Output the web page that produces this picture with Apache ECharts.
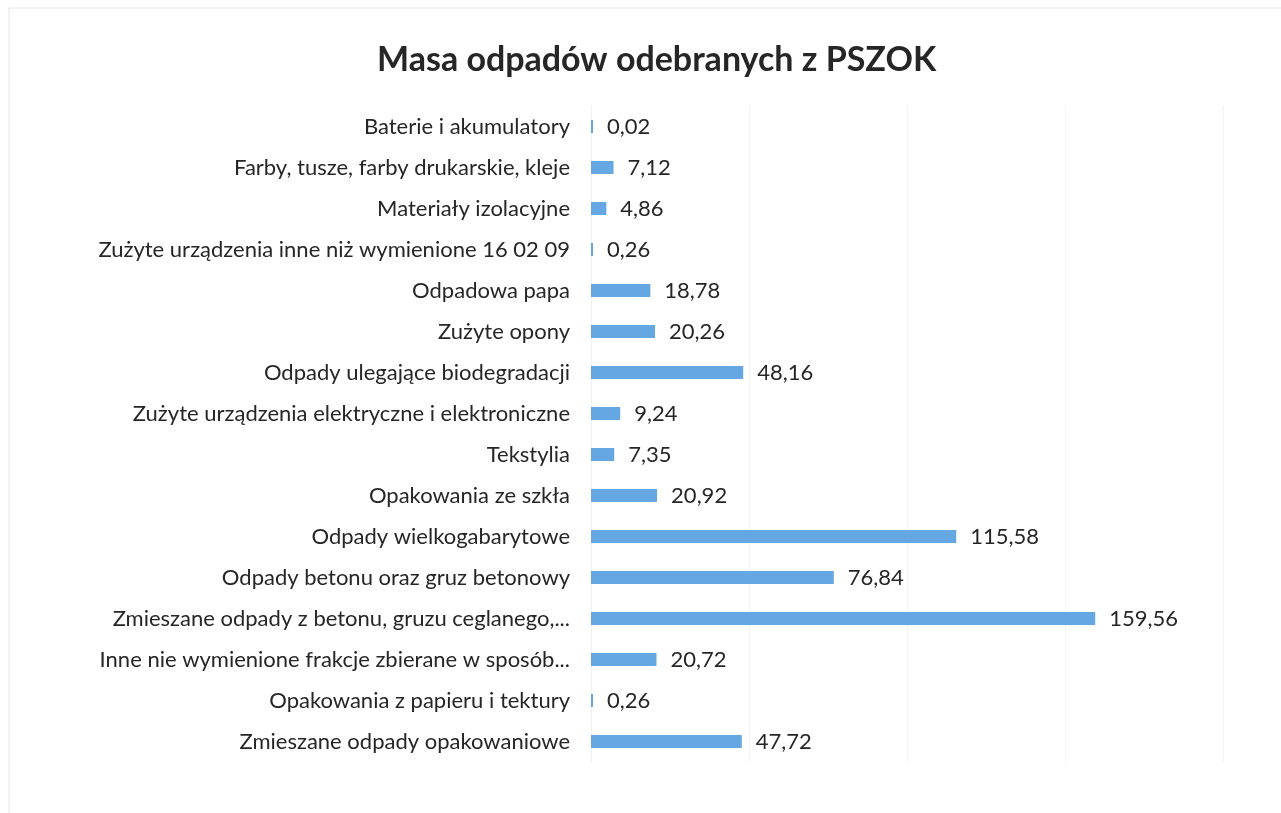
<!DOCTYPE html>
<html>
<head>
<meta charset="utf-8">
<title>Masa odpadów odebranych z PSZOK</title>
<script src="https://cdn.jsdelivr.net/npm/echarts@6/dist/echarts.min.js"></script>
<style>
  html, body { margin: 0; padding: 0; background: #fff; }
  #chart { width: 1281px; height: 813px; }
</style>
</head>
<body>
<div id="chart"></div>
<script>
// categories, top to bottom as in the picture
var categories = [
  'Baterie i akumulatory',
  'Farby, tusze, farby drukarskie, kleje',
  'Materiały izolacyjne',
  'Zużyte urządzenia inne niż wymienione 16 02 09',
  'Odpadowa papa',
  'Zużyte opony',
  'Odpady ulegające biodegradacji',
  'Zużyte urządzenia elektryczne i elektroniczne',
  'Tekstylia',
  'Opakowania ze szkła',
  'Odpady wielkogabarytowe',
  'Odpady betonu oraz gruz betonowy',
  'Zmieszane odpady z betonu, gruzu ceglanego,...',
  'Inne nie wymienione frakcje zbierane w sposób...',
  'Opakowania z papieru i tektury',
  'Zmieszane odpady opakowaniowe'
]
var masses = [0.02, 7.12, 4.86, 0.26, 18.78, 20.26, 48.16, 9.24, 7.35, 20.92, 115.58, 76.84, 159.56, 20.72, 0.26, 47.72]
var xTicks = [0, 50, 100, 150, 200]

var font = 'Lato, "Open Sans", sans-serif'
var chart = echarts.init(document.getElementById('chart'))

chart.setOption({
  backgroundColor: '#fff',
  animation: false,
  title: {
    text: 'Masa odpadów odebranych z PSZOK',
    left: 372,
    top: 38,
    textStyle: {
      fontFamily: font,
      fontSize: 34,
      fontWeight: 'bold',
      color: '#262626'
    }
  },
  graphic: [{
    type: 'rect',
    shape: { x: 9, y: 8, width: 1300, height: 900 },
    style: { fill: 'none', stroke: '#e6e6e6', lineWidth: 1 },
    silent: true
  }],
  grid: {
    left: 591,
    right: 58,
    top: 106,
    bottom: 51,
    containLabel: false
  },
  xAxis: {
    type: 'value',
    min: xTicks[0],
    max: xTicks[xTicks.length - 1],
    interval: 50,
    axisLabel: { show: false },
    axisLine: { show: false },
    axisTick: { show: false },
    splitLine: { lineStyle: { color: '#f4f4f4' } }
  },
  yAxis: {
    type: 'category',
    inverse: true,
    data: categories,
    axisLine: { lineStyle: { color: '#efefef' } },
    axisTick: { show: false },
    axisLabel: {
      margin: 21,
      fontFamily: font,
      fontSize: 22,
      color: '#262626'
    }
  },
  series: [{
    type: 'bar',
    data: masses,
    barWidth: 13,
    barMinHeight: 2,
    itemStyle: { color: '#65a7e3' },
    label: {
      show: true,
      position: 'right',
      distance: 14,
      fontFamily: font,
      fontSize: 22,
      color: '#262626',
      formatter: function (p) {
        return p.value.toFixed(2).replace('.', ',')
      }
    }
  }]
})
</script>
</body>
</html>
